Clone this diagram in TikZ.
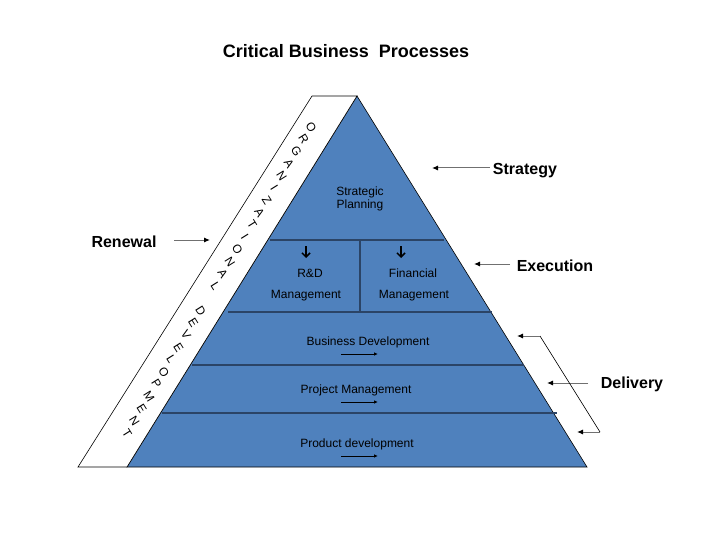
\documentclass[tikz,border=0pt]{standalone}
\usepackage{fontspec}
\setmainfont{Liberation Sans}
\usetikzlibrary{arrows.meta}
\definecolor{pyrfill}{HTML}{4F81BD}
\definecolor{pyrline}{HTML}{2B4466}
\definecolor{arrgray}{HTML}{707070}
\tikzset{
  lab/.style={font=\fontsize{16}{19}\selectfont\bfseries, inner sep=2pt},
  inlab/.style={font=\fontsize{12}{14}\selectfont, align=center, inner sep=1pt},
  bandletter/.style={font=\fontsize{12}{14}\selectfont, rotate=-58, inner sep=0pt},
  ptr/.style={draw=arrgray, line width=1pt, -{Latex[length=6pt,width=5pt,color=black]}},
  smallptr/.style={draw=black, line width=0.8pt, -{Latex[length=4pt,width=3.5pt]}},
  downptr/.style={draw=black, line width=1.2pt, -{Straight Barb[length=4pt,width=8pt,line width=1.5pt]}},
  divline/.style={draw=pyrline, line width=1.6pt},
}
\begin{document}
\begin{tikzpicture}[x=1pt,y=-1pt]
\useasboundingbox[fill=white] (0,0) rectangle (720,540);

% title
\node[font=\fontsize{18}{21}\selectfont\bfseries] (title) at (346,51) {Critical Business\ \ Processes};

% pyramid
\path[fill=pyrfill, draw=black, line width=0.6pt] (357,96) -- (587,467) -- (127,467) -- cycle;
% band
\draw[fill=white, line width=0.6pt] (78,467) -- (312,96) -- (357,96) -- (127,467) -- cycle;

% divisions
\draw[divline] (270,240) -- (444,240);
\draw[divline] (360,240) -- (360,312);
\draw[divline] (228,312) -- (492,312);
\draw[divline] (192,365) -- (524,365);
\draw[divline] (162,413) -- (557,413);

% band letters
\foreach \c [count=\i from 0] in {O,R,G,A,N,I,Z,A,T,I,O,N,A,L,{},D,E,V,E,L,O,P,M,E,N,T}
  \node[bandletter] (bl\i) at ({311-7.36*\i},{127+12.24*\i}) {\c};

% inner labels
\node[inlab] (strat) at (360,199) {Strategic\\[-1pt]Planning};
\node[inlab] (rd) at (310,273) {R\&D};
\node[inlab] (rdm) at (306,296) {Management};
\node[inlab] (fin) at (413,273) {Financial};
\node[inlab] (finm) at (414,296) {Management};
\node[inlab] (bd) at (368,342) {Business Development};
\node[inlab] (pm) at (356,390) {Project Management};
\node[inlab] (pd) at (357,444) {Product development};

% down arrows
\coordinate (rdtop) at (306,246);
\coordinate (rdbot) at (306,258);
\coordinate (fintop) at (401,246);
\coordinate (finbot) at (401,258);
\draw[downptr] (rdtop) -- (rdbot);
\draw[downptr] (fintop) -- (finbot);

% small right arrows
\coordinate (bda) at (341,354); \coordinate (bdb) at (378,354);
\coordinate (pma) at (341,402); \coordinate (pmb) at (378,402);
\coordinate (pda) at (341,456); \coordinate (pdb) at (378,456);
\draw[smallptr] (bda) -- (bdb);
\draw[smallptr] (pma) -- (pmb);
\draw[smallptr] (pda) -- (pdb);

% side labels
\node[lab] (strategy) at (525,171) {Strategy};
\node[lab] (execution) at (555,266) {Execution};
\node[lab] (delivery) at (632,384) {Delivery};
\node[lab] (renewal) at (124,242) {Renewal};

\coordinate (stra) at (490,168); \coordinate (strb) at (432,168);
\coordinate (exa) at (510,264); \coordinate (exb) at (474,264);
\coordinate (dla) at (588,383); \coordinate (dlb) at (547,383);
\coordinate (rna) at (174,240); \coordinate (rnb) at (210,240);
\draw[ptr] (stra) -- (strb);
\draw[ptr] (exa) -- (exb);
\draw[ptr] (dla) -- (dlb);
\draw[ptr] (rna) -- (rnb);

% delivery bracket
\coordinate (bt) at (540,336);
\coordinate (bb) at (600,432);
\coordinate (btip) at (517,336);
\coordinate (bbtip) at (577,432);
\draw[line width=0.6pt] (bt) -- (bb);
\draw[ptr] (bt) -- (btip);
\draw[ptr] (bb) -- (bbtip);
\end{tikzpicture}
\end{document}
